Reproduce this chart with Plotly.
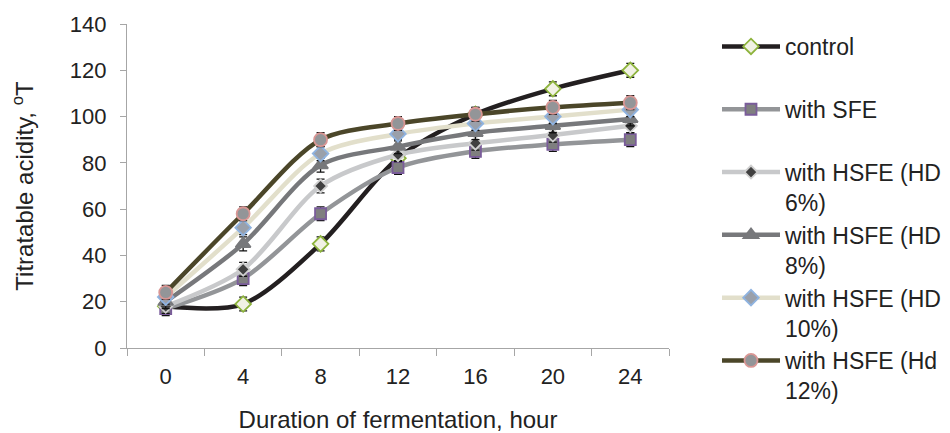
import plotly.graph_objects as go

hours = ["0", "4", "8", "12", "16", "20", "24"]
control = [18, 19, 45, 82, 101, 112, 120]
sfe = [17, 30, 58, 78, 85, 88, 90]
hd6 = [18, 34, 70, 83.5, 88.5, 92, 96]
hd8 = [20, 45, 79, 87, 93, 96, 99]
hd10 = [22, 52, 84, 92.5, 97, 100, 103]
hd12 = [24, 58, 90, 97, 101, 104, 106]
err = [3, 3, 3, 3, 3, 3, 3]

names = ["control<br> ", "with SFE<br> ", "with HSFE (HD<br>6%)", "with HSFE (HD<br>8%)",
         "with HSFE (HD<br>10%)", "with HSFE (Hd<br>12%)"]
series = [control, sfe, hd6, hd8, hd10, hd12]
line_colors = ["#231f20", "#939598", "#c8c9cb", "#77787b", "#e2dfcb", "#4b4629"]
symbols = ["diamond", "square", "diamond", "triangle-up", "diamond", "circle"]
fills = ["#f1f1e4", "#7f7f7f", "#404040", "#77787b", "#9aa0aa", "#939598"]
borders = ["#8db33c", "#7a5c9a", "#d0d0d0", "#77787b", "#8fb3e0", "#d99694"]
sizes = [12, 11, 10, 13, 12, 13]

# the page body has an 8px margin, so the figure is laid out 8px smaller
W, H = 942, 425
fig = go.Figure()
for i, ys in enumerate(series):
    fig.add_trace(go.Scatter(
        x=hours, y=ys, name=names[i], mode="lines+markers",
        line=dict(color=line_colors[i], width=4.5, shape="spline", smoothing=0.85),
        marker=dict(symbol=symbols[i], size=sizes[i], color=fills[i],
                    line=dict(color=borders[i], width=1.8)),
        error_y=dict(type="data", array=err, visible=True, color="#111111",
                     thickness=1.3, width=4),
        legendgroup=str(i),
    ))

font = "Liberation Sans, Arial, sans-serif"
fig.update_layout(
    width=W, height=H,
    margin=dict(l=119, r=281, t=16, b=85, autoexpand=False),
    paper_bgcolor="white", plot_bgcolor="white",
    font=dict(family=font, size=22, color="#222222"),
    showlegend=True,
    legend=dict(xref="container", yref="container", x=709 / W, xanchor="left",
                y=1 - 17 / H, yanchor="top", maxheight=420, itemwidth=58,
                font=dict(size=23, family=font, color="#222222"),
                traceorder="grouped", tracegroupgap=0, valign="top",
                bgcolor="rgba(0,0,0,0)"),
    xaxis=dict(type="category", range=[-0.5, 6.5], showline=True, linecolor="#a6a6a6",
               linewidth=1.3, ticks="outside", tickson="boundaries", ticklen=7,
               tickcolor="#a6a6a6", showgrid=False, zeroline=False, ticklabelstandoff=8,
               automargin=False,
               title=dict(text="Duration of fermentation, hour", font=dict(size=24), standoff=25)),
    yaxis=dict(range=[0, 140], dtick=20, showline=True, linecolor="#a6a6a6",
               linewidth=1.3, ticks="outside", ticklen=6, tickcolor="#a6a6a6",
               showgrid=False, zeroline=False, ticklabelstandoff=9, automargin=False,
               title=dict(text="Titratable acidity, <sup>o</sup>T", font=dict(size=24), standoff=35)),
)
fig.write_html("out.html")
